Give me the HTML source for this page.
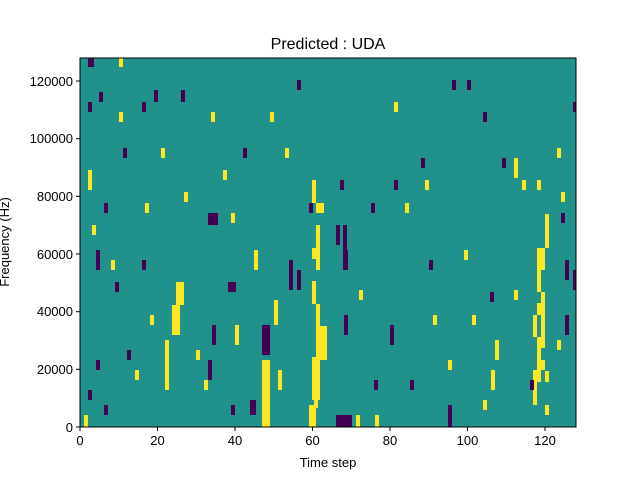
<!DOCTYPE html>
<html><head><meta charset="utf-8"><style>
body{margin:0;background:#fff;}
svg text{font-family:"Liberation Sans","DejaVu Sans",sans-serif;}
</style></head><body>
<svg width="640" height="480" viewBox="0 0 640 480" xmlns="http://www.w3.org/2000/svg">
<rect width="640" height="480" fill="#fff"/>
<rect x="80" y="58" width="496" height="369" fill="#21918c"/>
<g fill="#fde725">
<rect x="312" y="180" width="4" height="23"/>
<rect x="316" y="203" width="8" height="10"/>
<rect x="316" y="225" width="4" height="45"/>
<rect x="312" y="248" width="4" height="11"/>
<rect x="312" y="281" width="4" height="23"/>
<rect x="316" y="304" width="4" height="22"/>
<rect x="316" y="326" width="11" height="34"/>
<rect x="312" y="357" width="8" height="43"/>
<rect x="309" y="405" width="7" height="22"/>
<rect x="314" y="400" width="4" height="8"/>
<rect x="545" y="214" width="4" height="34"/>
<rect x="537" y="248" width="8" height="22"/>
<rect x="537" y="270" width="4" height="22"/>
<rect x="541" y="292" width="4" height="11"/>
<rect x="537" y="303" width="8" height="12"/>
<rect x="533" y="315" width="4" height="22"/>
<rect x="541" y="315" width="4" height="22"/>
<rect x="537" y="337" width="8" height="11"/>
<rect x="537" y="348" width="4" height="12"/>
<rect x="537" y="360" width="8" height="10"/>
<rect x="533" y="370" width="8" height="12"/>
<rect x="545" y="371" width="4" height="11"/>
<rect x="533" y="382" width="4" height="23"/>
<rect x="262" y="360" width="8" height="67"/>
<rect x="176" y="282" width="8" height="23"/>
<rect x="172" y="305" width="8" height="30"/>
<rect x="165" y="340" width="4" height="50"/>
<rect x="88" y="170" width="4" height="20"/>
<rect x="92" y="225" width="4" height="10"/>
<rect x="119" y="58" width="4" height="9"/>
<rect x="119" y="112" width="4" height="10"/>
<rect x="161" y="148" width="4" height="10"/>
<rect x="184" y="192" width="4" height="10"/>
<rect x="211" y="112" width="4" height="10"/>
<rect x="223" y="170" width="4" height="10"/>
<rect x="231" y="213" width="4" height="10"/>
<rect x="254" y="250" width="4" height="20"/>
<rect x="270" y="112" width="4" height="10"/>
<rect x="285" y="148" width="4" height="10"/>
<rect x="274" y="300" width="4" height="25"/>
<rect x="235" y="325" width="4" height="20"/>
<rect x="196" y="350" width="4" height="10"/>
<rect x="278" y="370" width="4" height="20"/>
<rect x="359" y="290" width="4" height="10"/>
<rect x="356" y="415" width="4" height="12"/>
<rect x="375" y="415" width="4" height="12"/>
<rect x="394" y="102" width="4" height="10"/>
<rect x="405" y="203" width="4" height="10"/>
<rect x="425" y="180" width="4" height="10"/>
<rect x="433" y="315" width="4" height="10"/>
<rect x="448" y="360" width="4" height="10"/>
<rect x="464" y="250" width="4" height="10"/>
<rect x="472" y="315" width="4" height="10"/>
<rect x="483" y="400" width="4" height="10"/>
<rect x="491" y="370" width="4" height="20"/>
<rect x="495" y="340" width="4" height="20"/>
<rect x="514" y="158" width="4" height="20"/>
<rect x="514" y="290" width="4" height="10"/>
<rect x="522" y="180" width="4" height="10"/>
<rect x="537" y="180" width="4" height="10"/>
<rect x="557" y="148" width="4" height="10"/>
<rect x="545" y="405" width="4" height="10"/>
<rect x="561" y="192" width="4" height="10"/>
<rect x="557" y="340" width="4" height="10"/>
<rect x="145" y="203" width="4" height="10"/>
<rect x="111" y="260" width="4" height="10"/>
<rect x="150" y="315" width="4" height="10"/>
<rect x="135" y="370" width="4" height="10"/>
<rect x="84" y="415" width="4" height="12"/>
<rect x="204" y="380" width="4" height="10"/>
</g>
<g fill="#440154">
<rect x="336" y="415" width="16" height="12"/>
<rect x="208" y="213" width="10" height="12"/>
<rect x="228" y="282" width="8" height="10"/>
<rect x="262" y="325" width="8" height="30"/>
<rect x="88" y="58" width="6" height="9"/>
<rect x="88" y="102" width="4" height="10"/>
<rect x="99" y="92" width="4" height="10"/>
<rect x="123" y="148" width="4" height="10"/>
<rect x="142" y="102" width="4" height="10"/>
<rect x="154" y="90" width="4" height="12"/>
<rect x="181" y="90" width="4" height="12"/>
<rect x="243" y="148" width="4" height="10"/>
<rect x="297" y="80" width="4" height="10"/>
<rect x="309" y="203" width="4" height="10"/>
<rect x="336" y="225" width="4" height="20"/>
<rect x="340" y="180" width="4" height="10"/>
<rect x="343" y="225" width="4" height="45"/>
<rect x="289" y="260" width="4" height="30"/>
<rect x="297" y="270" width="4" height="20"/>
<rect x="344" y="250" width="4" height="20"/>
<rect x="371" y="203" width="4" height="10"/>
<rect x="394" y="180" width="4" height="10"/>
<rect x="390" y="325" width="4" height="20"/>
<rect x="421" y="158" width="4" height="10"/>
<rect x="452" y="80" width="4" height="10"/>
<rect x="483" y="112" width="4" height="10"/>
<rect x="502" y="158" width="4" height="10"/>
<rect x="573" y="102" width="3" height="10"/>
<rect x="561" y="213" width="4" height="10"/>
<rect x="565" y="260" width="4" height="20"/>
<rect x="573" y="270" width="3" height="20"/>
<rect x="448" y="405" width="4" height="22"/>
<rect x="467" y="80" width="4" height="10"/>
<rect x="429" y="260" width="4" height="10"/>
<rect x="410" y="380" width="4" height="10"/>
<rect x="374" y="380" width="4" height="10"/>
<rect x="344" y="315" width="4" height="20"/>
<rect x="250" y="400" width="6" height="15"/>
<rect x="231" y="405" width="4" height="10"/>
<rect x="212" y="325" width="4" height="20"/>
<rect x="208" y="360" width="4" height="20"/>
<rect x="115" y="282" width="4" height="10"/>
<rect x="96" y="250" width="4" height="20"/>
<rect x="104" y="203" width="4" height="10"/>
<rect x="142" y="260" width="4" height="10"/>
<rect x="127" y="350" width="4" height="10"/>
<rect x="96" y="360" width="4" height="10"/>
<rect x="88" y="390" width="4" height="10"/>
<rect x="104" y="405" width="4" height="10"/>
<rect x="490" y="292" width="4" height="10"/>
<rect x="530" y="380" width="4" height="10"/>
<rect x="565" y="315" width="4" height="20"/>
</g>
<rect x="80" y="58" width="496" height="369" fill="none" stroke="#000" stroke-width="1"/>
<g stroke="#000" stroke-width="1">
<line x1="80" y1="427" x2="80" y2="431"/><line x1="157.5" y1="427" x2="157.5" y2="431"/>
<line x1="235" y1="427" x2="235" y2="431"/><line x1="312.5" y1="427" x2="312.5" y2="431"/>
<line x1="390" y1="427" x2="390" y2="431"/><line x1="467.5" y1="427" x2="467.5" y2="431"/>
<line x1="545" y1="427" x2="545" y2="431"/>
<line x1="76" y1="427" x2="80" y2="427"/><line x1="76" y1="369.3" x2="80" y2="369.3"/>
<line x1="76" y1="311.7" x2="80" y2="311.7"/><line x1="76" y1="254" x2="80" y2="254"/>
<line x1="76" y1="196.3" x2="80" y2="196.3"/><line x1="76" y1="138.7" x2="80" y2="138.7"/>
<line x1="76" y1="81" x2="80" y2="81"/>
</g>
<g font-size="13" fill="#000" text-anchor="middle">
<text x="80" y="445">0</text><text x="157.5" y="445">20</text><text x="235" y="445">40</text>
<text x="312.5" y="445">60</text><text x="390" y="445">80</text><text x="467.5" y="445">100</text>
<text x="545" y="445">120</text>
<text x="328" y="467">Time step</text>
</g>
<g font-size="13" fill="#000" text-anchor="end">
<text x="73" y="432">0</text><text x="73" y="374">20000</text><text x="73" y="316">40000</text>
<text x="73" y="259">60000</text><text x="73" y="201">80000</text><text x="73" y="143">100000</text>
<text x="73" y="86">120000</text>
</g>
<text x="9" y="242" font-size="13" text-anchor="middle" transform="rotate(-90 9 242)">Frequency (Hz)</text>
<text x="328" y="49" font-size="16" text-anchor="middle">Predicted : UDA</text>
</svg>
</body></html>
